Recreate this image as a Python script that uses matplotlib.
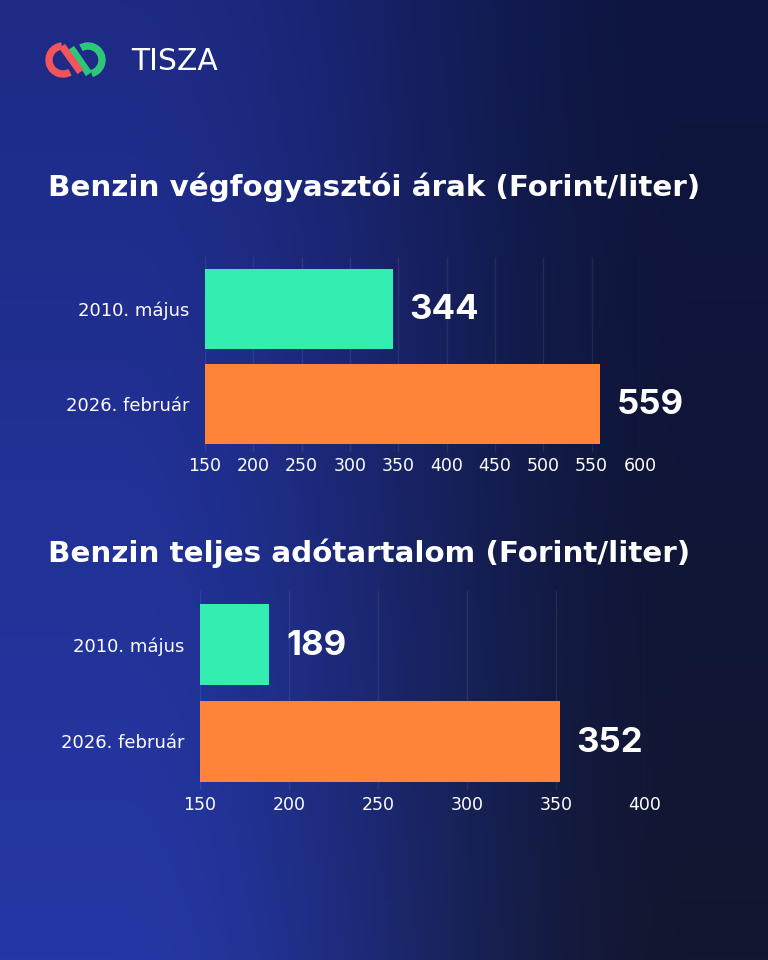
import numpy as np
import matplotlib
matplotlib.use("Agg")
import matplotlib.pyplot as plt
from matplotlib.patches import Arc

# data
categories = ["2010. május", "2026. február"]
price_values = [344, 559]
price_ticks = [150, 200, 250, 300, 350, 400, 450, 500, 550, 600]
tax_values = [189, 352]
tax_ticks = [150, 200, 250, 300, 350, 400]
title1 = "Benzin végfogyasztói árak (Forint/liter)"
title2 = "Benzin teljes adótartalom (Forint/liter)"

bar_colors = ["#33EEB0", "#FF843A"]
WIDE = ["DejaVu Sans"]
NUM = ["Inter", "Lato", "DejaVu Sans"]
plt.rcParams["font.family"] = WIDE

W, H = 768, 960
fig = plt.figure(figsize=(W / 100, H / 100), dpi=100)

# background gradient
bg = fig.add_axes([0, 0, 1, 1])
xx, yy = np.meshgrid(np.linspace(0, 1, 200), np.linspace(0, 1, 250))
tx = np.clip((xx - 0.15) / 0.75, 0, 1)
tx = tx * tx * (3 - 2 * tx)
c_lt = np.array([0x1d, 0x2b, 0x85]) / 255
c_lb = np.array([0x25, 0x37, 0xa5]) / 255
c_rt = np.array([0x0e, 0x15, 0x40]) / 255
c_rb = np.array([0x12, 0x17, 0x30]) / 255
top = c_lt[None, None, :] * (1 - tx[..., None]) + c_rt[None, None, :] * tx[..., None]
bot = c_lb[None, None, :] * (1 - tx[..., None]) + c_rb[None, None, :] * tx[..., None]
img = top * (1 - yy[..., None]) + bot * yy[..., None]
bg.imshow(img, aspect="auto", extent=[0, 1, 1, 0])
bg.axis("off")


def px_axes(left, top, right, bottom):
    return fig.add_axes([left / W, 1 - bottom / H, (right - left) / W, (bottom - top) / H])


# logo
lg = px_axes(44, 38, 108, 82)
lg.set_xlim(0, 64)
lg.set_ylim(0, 44)
lg.axis("off")
red, green = "#F2545B", "#2DC77A"
lw = 5.3
lg.add_patch(Arc((44, 22), 28, 28, theta1=285, theta2=480, color=green, lw=lw))
lg.plot([27, 45], [34, 8], color=green, lw=lw, solid_capstyle="butt")
lg.add_patch(Arc((19, 22), 28, 28, theta1=95, theta2=300, color=red, lw=lw))
lg.plot([18, 36.5], [36, 10], color=red, lw=lw, solid_capstyle="butt")
fig.text(131 / W, 1 - 61 / H, "TISZA", color="white", fontsize=21.5, fontweight="medium",
         va="center", ha="left")

# titles
fig.text(48 / W, 1 - 187 / H, title1, color="white", fontsize=21.2, fontweight="bold",
         va="center", ha="left")
fig.text(48 / W, 1 - 553 / H, title2, color="white", fontsize=21.2, fontweight="bold",
         va="center", ha="left")


def bar_chart(ax, values, ticks, height, pad_label):
    y = np.arange(len(values))
    ax.barh(y, [v - ticks[0] for v in values], left=ticks[0], height=height,
            color=bar_colors, zorder=2)
    ax.set_xlim(ticks[0], ticks[-1])
    ax.set_ylim(1.5, -0.55)
    ax.set_xticks(ticks)
    ax.set_xticklabels([str(t) for t in ticks])
    ax.set_yticks(y)
    ax.set_yticklabels(categories)
    ax.tick_params(axis="x", length=0, pad=4, labelsize=12.5, labelcolor="white")
    ax.tick_params(axis="y", length=0, pad=pad_label, labelsize=13, labelcolor="white")
    ax.grid(axis="x", color="white", alpha=0.08, lw=1, zorder=0)
    ax.set_facecolor("none")
    for s in ax.spines.values():
        s.set_visible(False)
    for i, v in enumerate(values):
        ax.annotate(str(v), (v, i), xytext=(12, -1), textcoords="offset points",
                    color="white", fontsize=25, fontweight="bold", va="center", ha="left",
                    family=NUM)


ax1 = px_axes(205, 309 - 0.55 * 95, 640, 309 + 1.5 * 95)
bar_chart(ax1, price_values, price_ticks, 0.84, 11)

ax2 = px_axes(200, 644.5 - 0.55 * 97, 645, 644.5 + 1.5 * 97)
bar_chart(ax2, tax_values, tax_ticks, 0.835, 11)

fig.savefig("out.png", dpi=100)
